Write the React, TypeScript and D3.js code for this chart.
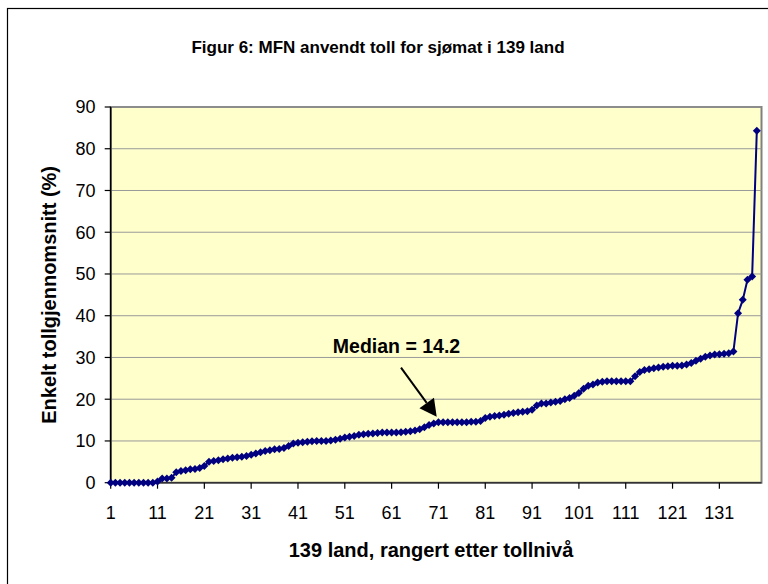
import React from "react";
import * as d3 from "d3";

const title = "Figur 6: MFN anvendt toll for sjømat i 139 land";
const yTitle = "Enkelt tollgjennomsnitt (%)";
const xTitle = "139 land, rangert etter tollnivå";
const annotation = "Median = 14.2";
const medianRank = 70;
const medianValue = 14.2;

const tariffs: number[] = [
  0, 0, 0, 0, 0, 0, 0, 0, 0, 0,
  0.3, 1.0, 1.0, 1.2, 2.5, 2.8, 3.0, 3.2, 3.3, 3.5,
  4.0, 5.0, 5.2, 5.4, 5.6, 5.8, 6.0, 6.1, 6.2, 6.4,
  6.7, 7.0, 7.3, 7.6, 7.8, 8.0, 8.1, 8.3, 8.8, 9.4,
  9.6, 9.7, 9.8, 9.9, 10.0, 10.0, 10.0, 10.1, 10.3, 10.5,
  10.8, 11.0, 11.2, 11.5, 11.6, 11.7, 11.8, 11.9, 12.0, 12.0,
  12.0, 12.0, 12.1, 12.2, 12.3, 12.5, 12.8, 13.3, 13.8, 14.2,
  14.5, 14.5, 14.5, 14.5, 14.5, 14.5, 14.5, 14.6, 14.6, 14.8,
  15.5, 15.8, 16.0, 16.1, 16.3, 16.5, 16.7, 16.9, 17.0, 17.1,
  17.5, 18.5, 19.0, 19.0, 19.2, 19.4, 19.6, 20.0, 20.3, 20.8,
  21.5, 22.5, 23.2, 23.5, 24.0, 24.2, 24.3, 24.3, 24.3, 24.3,
  24.3, 24.3, 25.5, 26.5, 27.0, 27.2, 27.4, 27.6, 27.8, 27.9,
  28.0, 28.0, 28.1, 28.3, 28.7, 29.2, 29.7, 30.2, 30.5, 30.7,
  30.8, 30.9, 31.0, 31.4, 40.6, 43.8, 48.6, 49.4, 84.3,
];

const yTicks = [0, 10, 20, 30, 40, 50, 60, 70, 80, 90];
const xTicks = [1, 11, 21, 31, 41, 51, 61, 71, 81, 91, 101, 111, 121, 131];

export default function App() {
  const W = 768;
  const H = 584;
  const left = 110.7;
  const right = 761.5;
  const top = 107;
  const bottom = 482.7;
  const font = "'Liberation Sans', Arial, sans-serif";

  const x = d3.scaleLinear().domain([1, 140]).range([left, right]);
  const y = d3.scaleLinear().domain([0, 90]).range([bottom, top]);

  const data = tariffs.map((v, i) => ({ rank: i + 1, v }));
  const line = d3
    .line<{ rank: number; v: number }>()
    .x((d) => x(d.rank))
    .y((d) => y(d.v));
  const marker = d3.symbol().type(d3.symbolSquare).size(32)() as string;

  // arrow geometry (annotation)
  const tipX = 436.7;
  const tipY = 416.7;
  const startX = 401;
  const startY = 367.7;
  const ang = Math.atan2(tipY - startY, tipX - startX);
  const headLen = 17;
  const headW = 9;
  const bx = tipX - headLen * Math.cos(ang);
  const by = tipY - headLen * Math.sin(ang);
  const px = -Math.sin(ang) * headW;
  const py = Math.cos(ang) * headW;

  return (
    <svg
      width={W}
      height={H}
      style={{ position: "absolute", left: 0, top: 0 }}
      fontFamily={font}
    >
      <rect x={0} y={0} width={W} height={H} fill="#fff" />
      <rect x={7.5} y={8.5} width={800} height={700} fill="#fff" stroke="#000" strokeWidth={1.2} />
      <text x={378} y={53} textAnchor="middle" fontWeight="bold" fontSize={17}>
        {title}
      </text>
      <rect x={left} y={top} width={right - left} height={bottom - top} fill="#FFFFCC" stroke="#808080" strokeWidth={2} />
      {yTicks.slice(1).map((t) => (
        <line key={t} x1={left} x2={right} y1={y(t)} y2={y(t)} stroke="#999" strokeWidth={1} />
      ))}
      <line x1={left} x2={left} y1={top} y2={bottom} stroke="#000" strokeWidth={1.5} />
      <line x1={left} x2={right} y1={bottom} y2={bottom} stroke="#333" strokeWidth={1.5} />
      {yTicks.map((t) => (
        <g key={t}>
          <line x1={left - 6} x2={left} y1={y(t)} y2={y(t)} stroke="#000" strokeWidth={1.2} />
          <text x={95.5} y={y(t) + 6.4} textAnchor="end" fontSize={18}>
            {t}
          </text>
        </g>
      ))}
      {xTicks.map((t) => (
        <g key={t}>
          <line x1={x(t)} x2={x(t)} y1={bottom} y2={bottom + 6} stroke="#000" strokeWidth={1.2} />
          <text x={x(t)} y={519} textAnchor="middle" fontSize={18}>
            {t}
          </text>
        </g>
      ))}
      <text
        transform={`translate(56,${(top + bottom) / 2}) rotate(-90)`}
        textAnchor="middle"
        fontWeight="bold"
        fontSize={20}
      >
        {yTitle}
      </text>
      <text x={431} y={557} textAnchor="middle" fontWeight="bold" fontSize={20}>
        {xTitle}
      </text>
      <path d={line(data) as string} fill="none" stroke="#000080" strokeWidth={2} />
      {data.map((d) => (
        <path
          key={d.rank}
          d={marker}
          transform={`translate(${x(d.rank)},${y(d.v)}) rotate(45)`}
          fill="#000080"
        />
      ))}
      <text x={396.5} y={353.2} textAnchor="middle" fontWeight="bold" fontSize={19.5}>
        {annotation}
      </text>
      <line x1={startX} y1={startY} x2={bx} y2={by} stroke="#000" strokeWidth={2} />
      <path
        d={`M${tipX},${tipY} L${bx + px},${by + py} L${bx - px},${by - py} Z`}
        fill="#000"
      />
    </svg>
  );
}
